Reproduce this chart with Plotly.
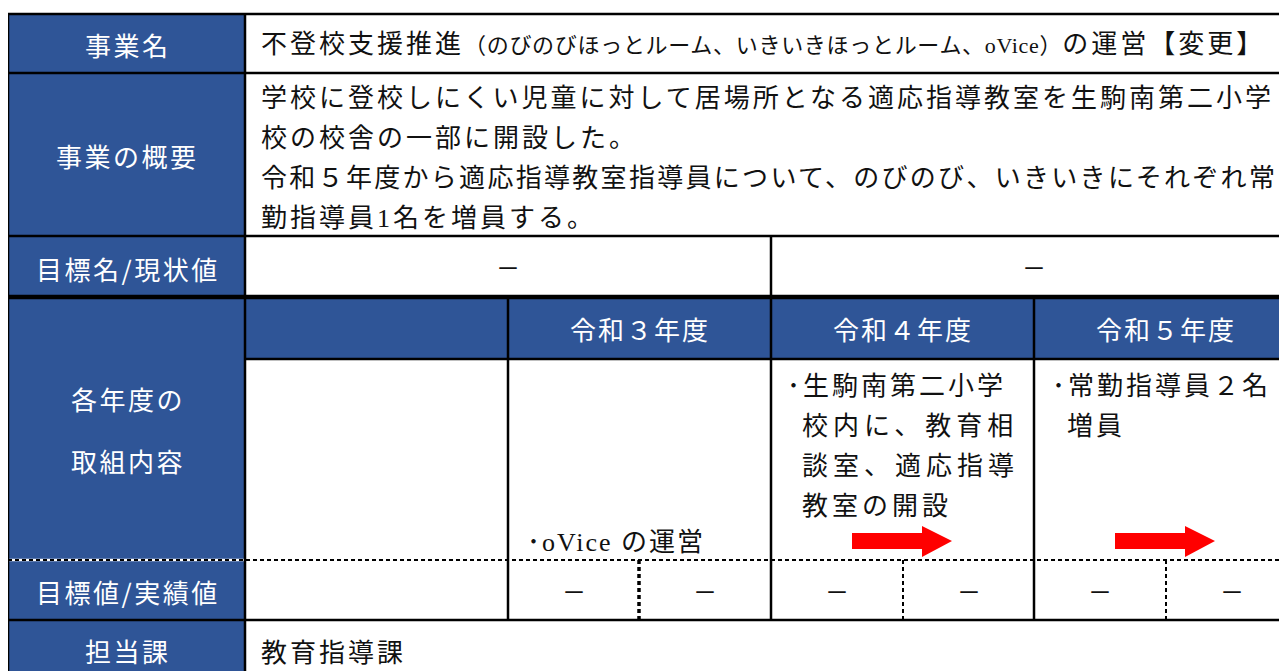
import plotly.graph_objects as go

# ---------------- data (text content) ----------------
row_labels = ["事業名", "事業の概要", "目標名/現状値", "", "各年度の<br>取組内容", "目標値/実績値", "担当課"]
title_main = "不登校支援推進"
title_paren = "（のびのびほっとルーム、いきいきほっとルーム、oVice）"
title_tail = "の運営【変更】"
overview_lines = [
    "学校に登校しにくい児童に対して居場所となる適応指導教室を生駒南第二小学",
    "校の校舎の一部に開設した。",
    "令和５年度から適応指導教室指導員について、のびのび、いきいきにそれぞれ常",
    "勤指導員1名を増員する。",
]
goal_names = ["－", "－"]
years = ["令和３年度", "令和４年度", "令和５年度"]
activities = [
    ["･oVice の運営"],
    ["･生駒南第二小学", "校内に、教育相", "談室、適応指導", "教室の開設"],
    ["･常勤指導員２名", "増員"],
]
targets = ["－", "－", "－", "－", "－", "－"]
department = "教育指導課"

# ---------------- geometry (page pixels) ----------------
W, H = 1287, 671
OFF = 8  # page offset of the plot div
col_edges = [8, 245, 508, 771, 1034, 1297]
sub_edges = [639, 903, 1166]
row_edges = [14, 73, 236, 297, 359, 560, 620, 700]
BLUE = "#2F5597"
SANS = "Noto Sans CJK JP"
MIX = "Liberation Serif, Noto Sans CJK JP"

fig = go.Figure()
fig.add_trace(go.Scatter(x=[OFF, W + OFF], y=[OFF, H + OFF], mode="markers",
                         marker=dict(opacity=0), hoverinfo="skip", showlegend=False))

shapes = []
ann = []

def rect(x0, y0, x1, y1, color):
    shapes.append(dict(type="rect", xref="x", yref="y", x0=x0, x1=x1, y0=y0, y1=y1,
                       fillcolor=color, line=dict(width=0), layer="below"))

def line(x0, y0, x1, y1, width=2.5, color="black", dash="solid"):
    shapes.append(dict(type="line", xref="x", yref="y", x0=x0, x1=x1, y0=y0, y1=y1,
                       line=dict(color=color, width=width, dash=dash)))

def text(x, y, s, size=26, color="#111", anchor="left", family=SANS, spacing=3):
    ann.append(dict(x=x, y=y, xref="x", yref="y", showarrow=False, xanchor=anchor,
                    yanchor="middle", align="center" if anchor == "center" else anchor,
                    text=f"<span style='letter-spacing:{spacing}px'>{s}</span>",
                    font=dict(family=family, size=size, color=color)))

L, C1, C2, C3, C4, R = col_edges
# label column
rect(L, row_edges[0], C1, row_edges[-1], BLUE)
# header row blue
rect(C1, row_edges[3], R, row_edges[4], BLUE)

# horizontal lines
line(L, row_edges[0], R, row_edges[0])
line(L, row_edges[1], R, row_edges[1])
line(L, row_edges[2], R, row_edges[2])
line(L, row_edges[3], R, row_edges[3], width=4.5)
line(C1, row_edges[4], R, row_edges[4])
line(L, row_edges[5], C1, row_edges[5], width=2.5, color="white")
line(L, row_edges[5], R, row_edges[5], width=2, dash="4px,3px")
line(L, row_edges[6], R, row_edges[6])

# vertical lines
line(L, row_edges[0], L, row_edges[-1])
line(C1, row_edges[0], C1, row_edges[-1])
line(C3, row_edges[2], C3, row_edges[3])
for cx in (C2, C3, C4):
    line(cx, row_edges[3], cx, row_edges[6])
line(sub_edges[0], row_edges[5], sub_edges[0], row_edges[6], width=3.5, dash="4px,3px")
for sx in sub_edges[1:]:
    line(sx, row_edges[5], sx, row_edges[6], width=2, dash="4px,3px")

# row labels
label_y = [44, 155, 268, None, None, 591, 650]
for lab, yy in zip(row_labels, label_y):
    if yy is not None and lab:
        text((L + C1) / 2 + 1, yy, lab, color="white", anchor="center", spacing=2.5)
lab_lines = row_labels[4].split("<br>")
text((L + C1) / 2 + 1, 398, lab_lines[0], color="white", anchor="center", spacing=2.5)
text((L + C1) / 2 + 1, 460, lab_lines[1], color="white", anchor="center", spacing=2.5)

# row 1 title
ann.append(dict(x=259, y=44, xref="x", yref="y", showarrow=False, xanchor="left", yanchor="middle",
                text=(f"<span style='letter-spacing:3px'>{title_main}</span>"
                      f"<span style='font-size:22px;letter-spacing:0.7px'>{title_paren}</span>"
                      f"<span style='letter-spacing:3px'>{title_tail}</span>"),
                font=dict(family=MIX, size=26, color="#111")))

# row 2 overview
ov_sp = [3, 3, 2.3, 3]
for i, s in enumerate(overview_lines):
    text(259, 98 + 40 * i, s, family=MIX, spacing=ov_sp[i])

# row 3 goal names
text((C1 + C3) / 2, 266, goal_names[0], size=24, anchor="center", spacing=0)
text((C3 + R) / 2, 266, goal_names[1], size=24, anchor="center", spacing=0)

# row 4 headers
for i, y in enumerate(years):
    text((col_edges[i + 2] + col_edges[i + 3]) / 2, 328, y, color="white", anchor="center", spacing=2)

# row 5 activities
text(C2 + 17, 542, activities[0][0], family=MIX, spacing=2)
act2_sp = [3, 5, 5, 4]
act2_y = [383, 423, 463, 503]
act2_x = [C3 + 14, C3 + 29, C3 + 29, C3 + 29]
for s, xx, yy, sp in zip(activities[1], act2_x, act2_y, act2_sp):
    text(xx, yy, s, spacing=sp)
text(C4 + 16, 383, activities[2][0], spacing=3)
text(C4 + 31, 423, activities[2][1], spacing=3)

# arrows
for base in (C3, C4):
    x0 = base + 81
    xh = x0 + 70
    xt = x0 + 100
    path = (f"M {x0},533 L {xh},533 L {xh},526 L {xt},541 L {xh},557 "
            f"L {xh},549 L {x0},549 Z")
    shapes.append(dict(type="path", xref="x", yref="y", path=path,
                       fillcolor="#FF0000", line=dict(width=0)))

# row 6 targets
half_edges = [C2, sub_edges[0], C3, sub_edges[1], C4, sub_edges[2], R]
for i, t in enumerate(targets):
    text((half_edges[i] + half_edges[i + 1]) / 2, 590, t, size=24, anchor="center", spacing=0)

# row 7 department
text(259, 650, department, spacing=3)

fig.update_layout(
    width=W, height=H, margin=dict(l=0, r=0, t=0, b=0),
    paper_bgcolor="white", plot_bgcolor="white",
    xaxis=dict(range=[OFF, W + OFF], visible=False, fixedrange=True),
    yaxis=dict(range=[H + OFF, OFF], visible=False, fixedrange=True),
    shapes=shapes, annotations=ann, showlegend=False,
)
fig.write_html("out.html")
